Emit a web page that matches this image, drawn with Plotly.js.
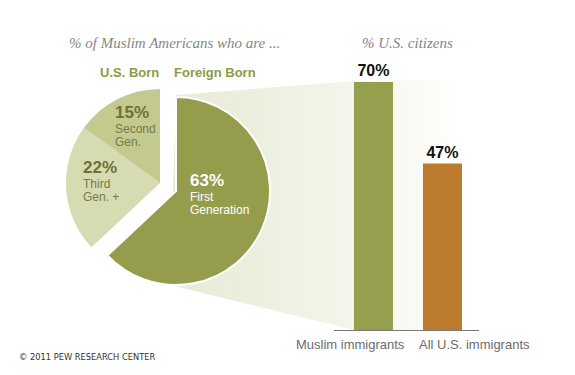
<!DOCTYPE html>
<html>
<head>
<meta charset="utf-8">
<script src="https://cdn.plot.ly/plotly-3.0.1.min.js"></script>
<style>html,body{margin:0;padding:0;background:#fff;}#chart{width:575px;height:375px;}</style>
</head>
<body>
<div id="chart"></div>
<script>
// ---- data ----
const pieLabels = ["First Generation", "Third Gen. +", "Second Gen."];
const pieValues = [63, 22, 15];
const barCategories = ["Muslim immigrants", "All U.S. immigrants"];
const barValues = [70, 47];

// ---- styles ----
const olive = "#959d4d";
const pieColorsForeign = [olive, "rgba(0,0,0,0)", "rgba(0,0,0,0)"];
const pieColorsUS = ["rgba(0,0,0,0)", "#d6dbb1", "#c3c98f"];
const barColors = ["#969f4e", "#bb7a2d"];

const common = {
  type: "pie", labels: pieLabels, values: pieValues, sort: false,
  direction: "clockwise", rotation: 0, textinfo: "none", hoverinfo: "skip",
  showlegend: false
};

// decorative projection from the foreign-born slice to the bars (pixel space)
const fan = {
  type: "scatter", mode: "lines", xaxis: "x", yaxis: "y",
  x: [176, 354, 462, 462, 354, 170, 176],
  y: [95, 81, 80, 330, 330, 285, 95],
  fill: "toself", line: {width: 0}, hoverinfo: "skip", showlegend: false,
  fillgradient: {type: "horizontal", start: 176, stop: 462,
    colorscale: [[0, "#e8ebd5"], [0.35, "#eef0e1"], [0.65, "#f5f6ed"], [0.85, "#fafbf5"], [1, "#ffffff"]]}
};

const pieForeign = Object.assign({}, common, {
  domain: {x: [82/575, 270/575], y: [90/375, 278/375]},
  marker: {colors: pieColorsForeign, line: {color: ["#ffffff", "rgba(0,0,0,0)", "rgba(0,0,0,0)"], width: [2, 0, 0]}}
});
const pieUS = Object.assign({}, common, {
  domain: {x: [66/575, 254/575], y: [98/375, 286/375]},
  marker: {colors: pieColorsUS, line: {color: "rgba(0,0,0,0)", width: 0}}
});

const bars = {
  type: "bar", xaxis: "x2", yaxis: "y2",
  x: barCategories, y: barValues, width: 0.565,
  marker: {color: barColors},
  text: barValues.map(v => v + "%"), textposition: "outside", cliponaxis: false,
  textfont: {family: "Liberation Sans, Arial, sans-serif", size: 16, color: "#111"},
  texttemplate: "<b>%{text}</b>",
  hoverinfo: "skip", showlegend: false
};

const sans = "Liberation Sans, Arial, sans-serif";
const serif = "Liberation Serif, Georgia, serif";
const pctFont = {family: sans, size: 17, color: "#6c7233"};
const subFont = {family: sans, size: 12, color: "#767b45"};
const whitePct = {family: sans, size: 17, color: "#ffffff"};
const whiteSub = {family: sans, size: 12, color: "#ffffff"};
const annotations = [
  {text: "<i>% of Muslim Americans who are ...</i>", x: 174, y: 43, font: {family: serif, size: 15, color: "#858585"}},
  {text: "<i>% U.S. citizens</i>", x: 407, y: 43, font: {family: serif, size: 15, color: "#858585"}},
  {text: "<b>U.S. Born</b>", x: 129, y: 72, font: {family: sans, size: 13, color: "#8e9a45"}},
  {text: "<b>Foreign Born</b>", x: 215, y: 72, font: {family: sans, size: 13, color: "#8e9a45"}},
  {text: "<b>15%</b>", x: 113, y: 112, xanchor: "left", font: pctFont},
  {text: "Second", x: 113, y: 129, xanchor: "left", font: subFont},
  {text: "Gen.", x: 113, y: 142, xanchor: "left", font: subFont},
  {text: "<b>22%</b>", x: 81, y: 167, xanchor: "left", font: pctFont},
  {text: "Third", x: 81, y: 184, xanchor: "left", font: subFont},
  {text: "Gen. +", x: 81, y: 197, xanchor: "left", font: subFont},
  {text: "<b>63%</b>", x: 188, y: 180, xanchor: "left", font: whitePct},
  {text: "First", x: 188, y: 197, xanchor: "left", font: whiteSub},
  {text: "Generation", x: 188, y: 209.5, xanchor: "left", font: whiteSub},
  {text: "© 2011 PEW RESEARCH CENTER", x: 17, y: 357, xanchor: "left", font: {family: "DejaVu Sans, sans-serif", size: 8.3, color: "#333"}}
].map(a => Object.assign({xref: "x", yref: "y", showarrow: false, yanchor: "middle"}, a));

// category labels under the bars
annotations.push(
  {text: barCategories[0], xref: "x2", yref: "y2", x: 0, y: 0, yanchor: "top", yshift: -5, xshift: -23, showarrow: false, font: {family: sans, size: 13, color: "#6b6b6b"}},
  {text: barCategories[1], xref: "x2", yref: "y2", x: 1, y: 0, yanchor: "top", yshift: -5, xshift: 32, showarrow: false, font: {family: sans, size: 13, color: "#6b6b6b"}}
);

const layout = {
  width: 575, height: 375, margin: {l: 0, r: 0, t: 0, b: 0},
  paper_bgcolor: "#ffffff", plot_bgcolor: "rgba(0,0,0,0)",
  xaxis: {range: [0, 575], domain: [0, 1], visible: false, fixedrange: true},
  yaxis: {range: [375, 0], domain: [0, 1], visible: false, fixedrange: true},
  xaxis2: {domain: [334/575, 479/575], anchor: "y2", type: "category", range: [-0.572, 1.529],
    showticklabels: false, showline: true, linecolor: "#777", linewidth: 1, showgrid: false, zeroline: false, ticks: ""},
  yaxis2: {domain: [45/375, 1 - 46.6/375], anchor: "x2", range: [0, 80], visible: false, showgrid: false},
  annotations: annotations,
  showlegend: false
};

Plotly.newPlot("chart", [fan, bars, pieUS, pieForeign], layout, {staticPlot: true, displayModeBar: false});
</script>
</body>
</html>
